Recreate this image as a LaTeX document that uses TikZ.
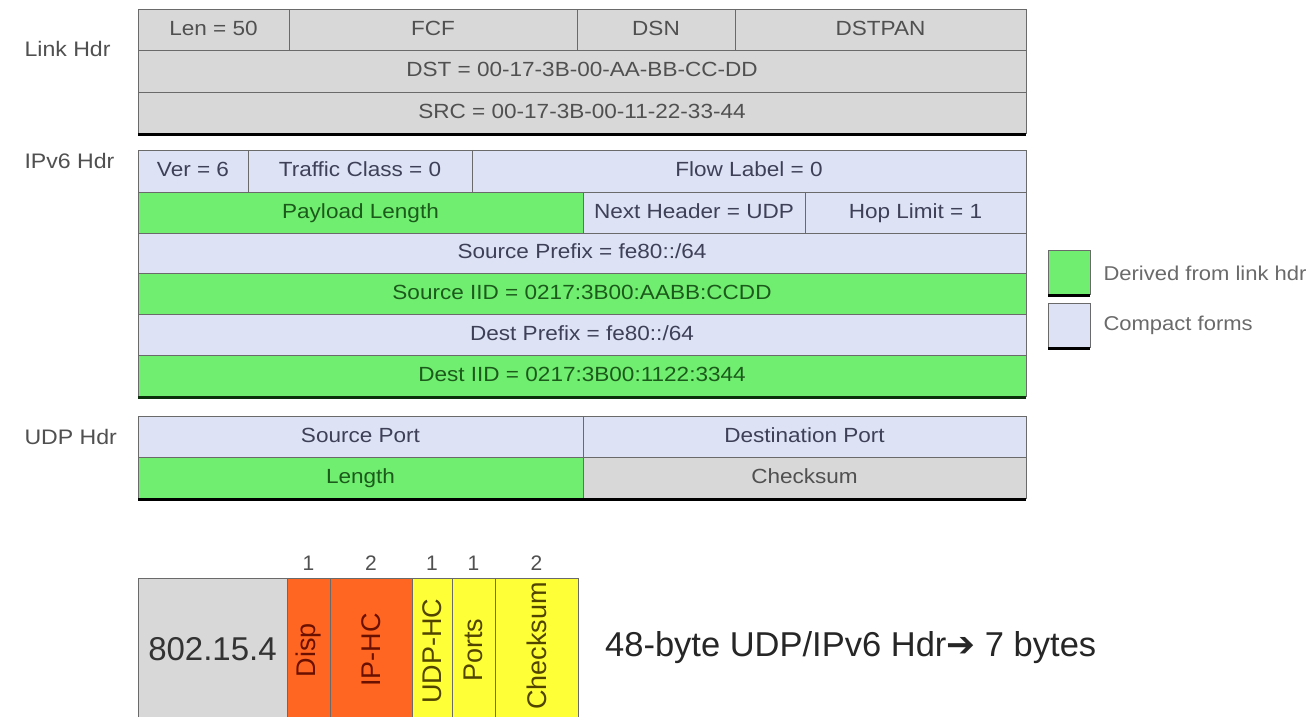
\documentclass[tikz,border=0pt]{standalone}
\usepackage{fontspec}
\setmainfont{Liberation Sans}
\newfontfamily\wide[FakeStretch=1.1]{Liberation Sans}
\newfontfamily\symfont{DejaVu Sans}
\definecolor{cgray}{HTML}{D8D8D8}
\definecolor{cblue}{HTML}{DDE3F5}
\definecolor{cgreen}{HTML}{70EE70}
\definecolor{corange}{HTML}{FF6622}
\definecolor{cyellow}{HTML}{FFFF38}
\definecolor{cellline}{HTML}{6A6A6A}
\definecolor{tgray}{HTML}{505050}
\definecolor{tblue}{HTML}{3E4058}
\definecolor{tgreen}{HTML}{1C5A1C}
\definecolor{torange}{HTML}{6A1000}
\definecolor{tyellow}{HTML}{504400}
\definecolor{shadowgreen}{HTML}{0B2E0B}
\begin{document}
\begin{tikzpicture}[x=1pt,y=-1pt,
  cell/.style={draw=cellline, line width=1pt, inner sep=0pt, outer sep=0pt,
    anchor=north west, font=\wide\fontsize{20.5}{24}\selectfont,
    text height=15pt, text depth=4pt},
  gcell/.style={cell, fill=cgray, text=tgray},
  bcell/.style={cell, fill=cblue, text=tblue},
  ncell/.style={cell, fill=cgreen, text=tgreen},
  ocell/.style={cell, fill=corange},
  ycell/.style={cell, fill=cyellow},
  vtext/.style={rotate=90, font=\fontsize{27}{30}\selectfont},
  grouplabel/.style={anchor=west, text=tgray, font=\wide\fontsize{21}{24}\selectfont},
  legendtext/.style={anchor=west, text=tgray!85, font=\wide\fontsize{20}{24}\selectfont},
  count/.style={anchor=south, text=tgray, font=\fontsize{21}{24}\selectfont},
  shadowline/.style={line width=3pt, black},
]
\useasboundingbox (0,0) rectangle (1316,716);
\fill[white] (0,0) rectangle (1316,716);

% ---------------- Link header ----------------
\node[grouplabel] (linklbl) at (21,49) {Link Hdr};
\node[gcell, minimum width=151pt, minimum height=41pt] (len) at (138,9) {Len = 50};
\node[gcell, minimum width=288pt, minimum height=41pt] (fcf) at (289,9) {FCF};
\node[gcell, minimum width=158pt, minimum height=41pt] (dsn) at (577,9) {DSN};
\node[gcell, minimum width=291pt, minimum height=41pt] (dstpan) at (735,9) {DSTPAN};
\node[gcell, minimum width=888pt, minimum height=42pt] (dst) at (138,50) {DST = 00-17-3B-00-AA-BB-CC-DD};
\node[gcell, minimum width=888pt, minimum height=41pt] (src) at (138,92) {SRC = 00-17-3B-00-11-22-33-44};
\draw[shadowline] ([yshift=-1.5pt]src.south west) -- ([yshift=-1.5pt]src.south east);

% ---------------- IPv6 header ----------------
\node[grouplabel] (ipv6lbl) at (21,161) {IPv6 Hdr};
\node[bcell, minimum width=110pt, minimum height=42pt] (ver) at (138,150) {Ver = 6};
\node[bcell, minimum width=224pt, minimum height=42pt] (tclass) at (248,150) {Traffic Class = 0};
\node[bcell, minimum width=554pt, minimum height=42pt] (flow) at (472,150) {Flow Label = 0};
\node[ncell, minimum width=445pt, minimum height=41pt] (plen) at (138,192) {Payload Length};
\node[bcell, minimum width=222pt, minimum height=41pt] (nexthdr) at (583,192) {Next Header = UDP};
\node[bcell, minimum width=221pt, minimum height=41pt] (hoplim) at (805,192) {Hop Limit = 1};
\node[bcell, minimum width=888pt, minimum height=40pt] (sprefix) at (138,233) {Source Prefix = fe80::/64};
\node[ncell, minimum width=888pt, minimum height=41pt] (siid) at (138,273) {Source IID = 0217:3B00:AABB:CCDD};
\node[bcell, minimum width=888pt, minimum height=41pt] (dprefix) at (138,314) {Dest Prefix = fe80::/64};
\node[ncell, minimum width=888pt, minimum height=41pt] (diid) at (138,355) {Dest IID = 0217:3B00:1122:3344};
\draw[shadowline, shadowgreen] ([yshift=-1.5pt]diid.south west) -- ([yshift=-1.5pt]diid.south east);

% ---------------- UDP header ----------------
\node[grouplabel] (udplbl) at (21,437) {UDP Hdr};
\node[bcell, minimum width=445pt, minimum height=41pt] (sport) at (138,416) {Source Port};
\node[bcell, minimum width=443pt, minimum height=41pt] (dport) at (583,416) {Destination Port};
\node[ncell, minimum width=445pt, minimum height=41pt] (ulen) at (138,457) {Length};
\node[gcell, minimum width=443pt, minimum height=41pt] (ucsum) at (583,457) {Checksum};
\draw[shadowline] ([yshift=-1.5pt]ulen.south west) -- ([yshift=-1.5pt]ucsum.south east);

% ---------------- Legend ----------------
\node[cell, fill=cgreen, minimum width=42pt, minimum height=44pt] (lgreen) at (1048,250) {};
\draw[shadowline] ([yshift=-1.5pt]lgreen.south west) -- ([yshift=-1.5pt]lgreen.south east);
\node[cell, fill=cblue, minimum width=42pt, minimum height=44pt] (lblue) at (1048,303) {};
\draw[shadowline] ([yshift=-1.5pt]lblue.south west) -- ([yshift=-1.5pt]lblue.south east);
\node[legendtext] (lgreentxt) at (1100,273) {Derived from link hdr};
\node[legendtext] (lbluetxt) at (1100,325) {Compact forms};

% ---------------- Compressed frame ----------------
\node[cell, fill=cgray, text=black!80, minimum width=149pt, minimum height=140pt,
  font=\fontsize{33}{38}\selectfont, text height=24pt, text depth=0pt] (mac) at (138,578) {802.15.4};
\node[ocell, minimum width=43pt, minimum height=140pt] (disp) at (287,578) {};
\node[ocell, minimum width=82pt, minimum height=140pt] (iphc) at (330,578) {};
\node[ycell, minimum width=40pt, minimum height=140pt] (udphc) at (412,578) {};
\node[ycell, minimum width=43pt, minimum height=140pt] (ports) at (452,578) {};
\node[ycell, minimum width=83pt, minimum height=140pt] (cksum) at (495,578) {};

\node[vtext, text=torange] (disptxt) at ([yshift=-2pt]disp.center) {Disp};
\node[vtext, text=torange] (iphctxt) at ([yshift=-2pt]iphc.center) {IP-HC};
\node[vtext, text=tyellow] (udphctxt) at ([yshift=-3pt]udphc.center) {UDP-HC};
\node[vtext, text=tyellow] (portstxt) at ([yshift=-2pt]ports.center) {Ports};
\node[vtext, text=tyellow] (cksumtxt) at ([yshift=2pt]cksum.center) {Checksum};

\node[count] (n1) at ([yshift=4pt]disp.north) {1};
\node[count] (n2) at ([yshift=4pt]iphc.north) {2};
\node[count] (n3) at ([yshift=4pt]udphc.north) {1};
\node[count] (n4) at ([yshift=4pt]ports.north) {1};
\node[count] (n5) at ([yshift=4pt]cksum.north) {2};

\node[anchor=west, text=black!85, font=\fontsize{34.5}{38}\selectfont, inner sep=0pt] (summary) at (605,648)
  {48-byte UDP/IPv6 Hdr{\symfont\char"2794} 7 bytes};
\end{tikzpicture}
\end{document}
